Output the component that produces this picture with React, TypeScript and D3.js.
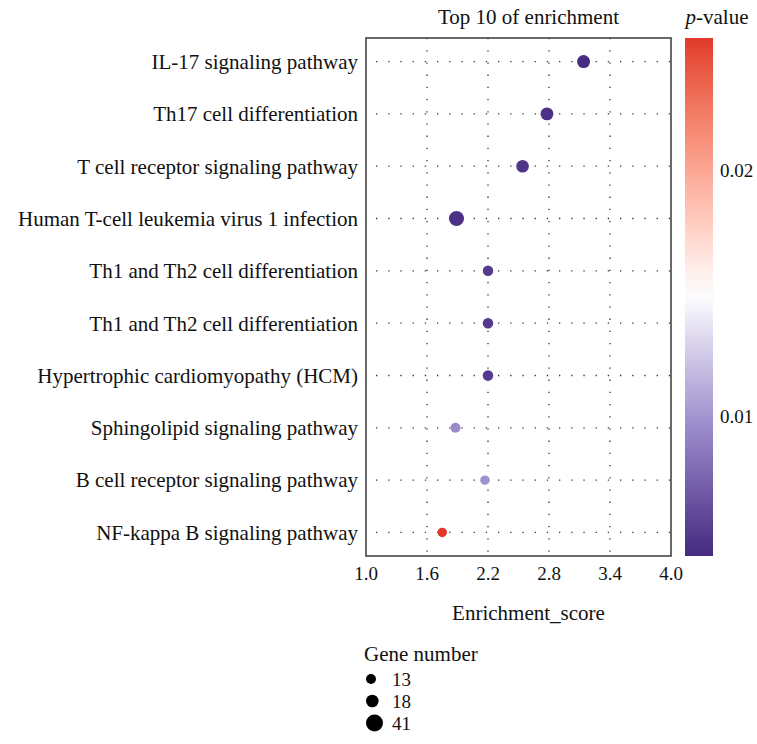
import React from "react";
import * as d3 from "d3";

const pathways = [
  "IL-17 signaling pathway",
  "Th17 cell differentiation",
  "T cell receptor signaling pathway",
  "Human T-cell leukemia virus 1 infection",
  "Th1 and Th2 cell differentiation",
  "Th1 and Th2 cell differentiation ",
  "Hypertrophic cardiomyopathy (HCM)",
  "Sphingolipid signaling pathway",
  "B cell receptor signaling pathway",
  "NF-kappa B signaling pathway",
];
const enrichment = [3.14, 2.78, 2.54, 1.89, 2.2, 2.2, 2.2, 1.88, 2.17, 1.75];
const geneCount = [20, 20, 18, 31, 14, 14, 14, 13, 12, 12];
const pValue = [0.0045, 0.0047, 0.0049, 0.0047, 0.0052, 0.0052, 0.0052, 0.0095, 0.0098, 0.0254];
const xTicks = [1.0, 1.6, 2.2, 2.8, 3.4, 4.0];
const pTicks = [0.01, 0.02];
const sizeLegend = [13, 18, 41];

const W = 757, H = 744;
const L = 366, R = 671, T = 38, B = 556;
const font = "'Liberation Serif', 'DejaVu Serif', serif";

export default function App() {
  const x = d3.scaleLinear().domain([1, 4]).range([L, R]);
  const y = d3.scalePoint<string>().domain(pathways).range([T, B]).padding(0.45);
  const r = d3.scaleLinear().domain(sizeLegend).range([5, 6.3, 8.5]);
  const pMin = 0.0043, pMax = 0.0254, pMid = 0.015;
  const color = d3
    .scaleLinear<string>()
    .domain([pMin, 0.0095, pMid, pMax])
    .range(["#452a80", "#9a8bcb", "#ffffff", "#e0392b"])
    .interpolate(d3.interpolateLab)
    .clamp(true);
  const cbX = 685, cbW = 28;
  const cy = d3.scaleLinear().domain([pMin, pMax]).range([B, T]);
  const stops = d3.range(0, 1.0001, 0.05).map((t) => pMin + t * (pMax - pMin));
  const dash = "1.3 10.9";
  const fs = 21;

  return (
    <svg width={W} height={H} style={{ position: "absolute", left: 0, top: 0 }} fontFamily={font}>
      <defs>
        <linearGradient id="cb" x1="0" y1="1" x2="0" y2="0">
          {stops.map((p, i) => (
            <stop key={i} offset={(p - pMin) / (pMax - pMin)} stopColor={color(p)} />
          ))}
        </linearGradient>
      </defs>
      <rect x={0} y={0} width={W} height={H} fill="#fff" />
      {xTicks.slice(1, -1).map((t) => (
        <line key={t} x1={x(t)} x2={x(t)} y1={T} y2={B} stroke="#333" strokeWidth={1.3} strokeDasharray={dash} />
      ))}
      {pathways.map((p) => (
        <line key={p} x1={L} x2={R} y1={y(p)} y2={y(p)} stroke="#333" strokeWidth={1.3} strokeDasharray={dash} strokeDashoffset={-10} />
      ))}
      <rect x={L} y={T} width={R - L} height={B - T} fill="none" stroke="#444" strokeWidth={1.6} />
      {pathways.map((p, i) => (
        <circle key={i} cx={x(enrichment[i])} cy={y(p)!} r={r(geneCount[i])} fill={color(pValue[i])} />
      ))}
      {pathways.map((p) => (
        <text key={p} x={L - 8} y={y(p)!} dy="0.35em" textAnchor="end" fontSize={fs} fill="#111">
          {p.trim()}
        </text>
      ))}
      {xTicks.map((t) => (
        <text key={t} x={x(t)} y={580} textAnchor="middle" fontSize={19} fill="#111">
          {d3.format(".1f")(t)}
        </text>
      ))}
      <text x={(L + R) / 2 + 10} y={620} textAnchor="middle" fontSize={fs} fill="#111">
        Enrichment_score
      </text>
      <text x={(L + R) / 2 + 10} y={24} textAnchor="middle" fontSize={fs} fill="#111">
        Top 10 of enrichment
      </text>
      <rect x={cbX} y={T} width={cbW} height={B - T} fill="url(#cb)" />
      {pTicks.map((t) => (
        <text key={t} x={720} y={cy(t)} dy="0.35em" fontSize={19} fill="#111">
          {d3.format(".2f")(t)}
        </text>
      ))}
      <text x={717} y={24} textAnchor="middle" fontSize={fs} fill="#111">
        <tspan fontStyle="italic">p</tspan>-value
      </text>
      <text x={364} y={661} fontSize={fs} fill="#111">Gene number</text>
      {sizeLegend.map((g, i) => (
        <g key={g}>
          <circle cx={366 + r(g)} cy={679 + i * 22} r={r(g)} fill="#000" />
          <text x={392} y={679 + i * 22} dy="0.35em" fontSize={19} fill="#111">{g}</text>
        </g>
      ))}
    </svg>
  );
}
